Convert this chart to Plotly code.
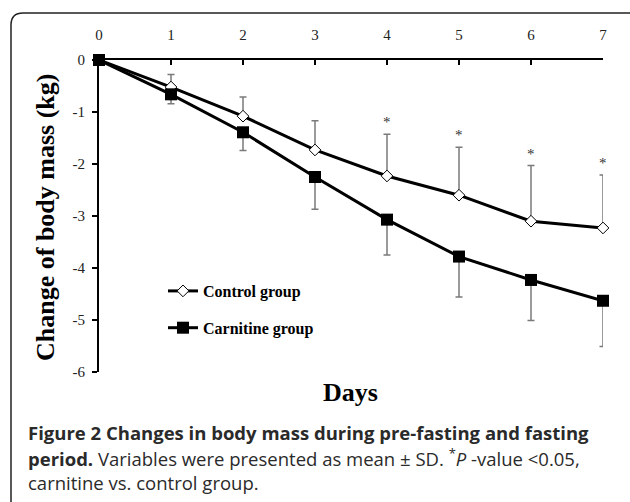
import plotly.graph_objects as go

# ---- data ----
days = [0, 1, 2, 3, 4, 5, 6, 7]
control_mean = [0, -0.52, -1.08, -1.73, -2.23, -2.60, -3.10, -3.23]
control_sd = [0, 0.24, 0.37, 0.56, 0.80, 0.92, 1.07, 1.02]
carnitine_mean = [0, -0.66, -1.39, -2.25, -3.07, -3.78, -4.23, -4.63]
carnitine_sd = [0, 0.18, 0.35, 0.62, 0.68, 0.78, 0.78, 0.88]
sig_days = [4, 5, 6, 7]
x_ticks = [0, 1, 2, 3, 4, 5, 6, 7]
y_ticks = [0, -1, -2, -3, -4, -5, -6]
y_ticktext = ["0", "-1", "-2", "-3", "-4", "-5", "-6"]

W, H = 630, 502
L, R, T, B = 99, 27, 60, 130
pw, ph = W - L - R, H - T - B


def xp(px):
    return (px - L) / pw


def yp(py):
    return (H - B - py) / ph


SERIF = "Liberation Serif, Times New Roman, serif"
SANS = "Open Sans, Noto Sans, sans-serif"

fig = go.Figure()
fig.add_trace(go.Scatter(
    x=days, y=control_mean, name="<b>Control group</b>", mode="lines+markers",
    line=dict(color="black", width=3),
    marker=dict(symbol="diamond", size=9, color="white", line=dict(color="black", width=1)),
    error_y=dict(type="data", array=control_sd, arrayminus=[0] * len(days), symmetric=False,
                 color="#7a7a7a", thickness=1.5, width=3.5),
    cliponaxis=False, legendgroup="a",
))
fig.add_trace(go.Scatter(
    x=days, y=carnitine_mean, name="<b>Carnitine group</b>", mode="lines+markers",
    line=dict(color="black", width=3),
    marker=dict(symbol="square", size=12, color="black"),
    error_y=dict(type="data", array=[0] * len(days), arrayminus=carnitine_sd, symmetric=False,
                 color="#7a7a7a", thickness=1.5, width=3.5),
    cliponaxis=False, legendgroup="b",
))

annotations = []
for d in sig_days:
    i = days.index(d)
    annotations.append(dict(x=d, y=control_mean[i] + control_sd[i], xref="x", yref="y",
                            text="*", showarrow=False, yanchor="bottom", yshift=2,
                            font=dict(family=SERIF, size=15, color="#333")))

annotations.append(dict(x=xp(45), y=yp(217), xref="paper", yref="paper",
                        text="<b>Change of body mass (kg)</b>", textangle=-90, showarrow=False,
                        xanchor="center", yanchor="middle",
                        font=dict(family=SERIF, size=26, color="black")))
annotations.append(dict(x=xp(350), y=yp(392), xref="paper", yref="paper",
                        text="<b>Days</b>", showarrow=False, xanchor="center", yanchor="middle",
                        font=dict(family=SERIF, size=26, color="black")))

cap_lines = [
    "<b>Figure 2 Changes in body mass during pre-fasting and fasting</b>",
    "<b>period.</b> Variables were presented as mean ± SD. <sup>*</sup><i>P</i> -value &lt;0.05,",
    "carnitine vs. control group.",
]
for txt, py in zip(cap_lines, [432, 457, 482]):
    annotations.append(dict(x=xp(26), y=yp(py), xref="paper", yref="paper", text=txt,
                            showarrow=False, xanchor="left", yanchor="middle",
                            font=dict(family=SANS, size=18.5, color="#2a2a2a")))

fig.update_layout(
    width=W, height=H,
    margin=dict(l=L, r=R, t=T, b=B, pad=0),
    paper_bgcolor="white", plot_bgcolor="white",
    showlegend=True,
    legend=dict(x=xp(163), y=yp(274), xanchor="left", yanchor="top",
                font=dict(family=SERIF, size=16, color="black"),
                traceorder="grouped", tracegroupgap=13, bgcolor="rgba(0,0,0,0)",
                itemwidth=30),
    annotations=annotations,
    shapes=[dict(type="path", xref="paper", yref="paper",
                 path=(f"M {xp(11)},{yp(520)} L {xp(11)},{yp(25)} "
                       f"Q {xp(11)},{yp(13)} {xp(23)},{yp(13)} L {xp(650)},{yp(13)}"),
                 line=dict(color="#222", width=1.5))],
    xaxis=dict(range=[0, 7], side="top", tickvals=x_ticks, ticks="inside", ticklen=5,
               tickwidth=1.5, tickcolor="black", showline=True, linecolor="black", linewidth=2,
               showgrid=False, zeroline=False, ticklabelstandoff=12,
               tickfont=dict(family=SERIF, size=15, color="#222")),
    yaxis=dict(range=[-6, 0], tickvals=y_ticks, ticktext=y_ticktext, ticks="outside",
               ticklen=5, tickwidth=1.5, ticklabelstandoff=4,
               tickcolor="black", showline=True, linecolor="black", linewidth=2,
               showgrid=False, zeroline=False,
               tickfont=dict(family=SERIF, size=15, color="#222")),
)

fig.write_html("out.html", config={"displayModeBar": False},
               post_script="document.body.style.margin='0';")
